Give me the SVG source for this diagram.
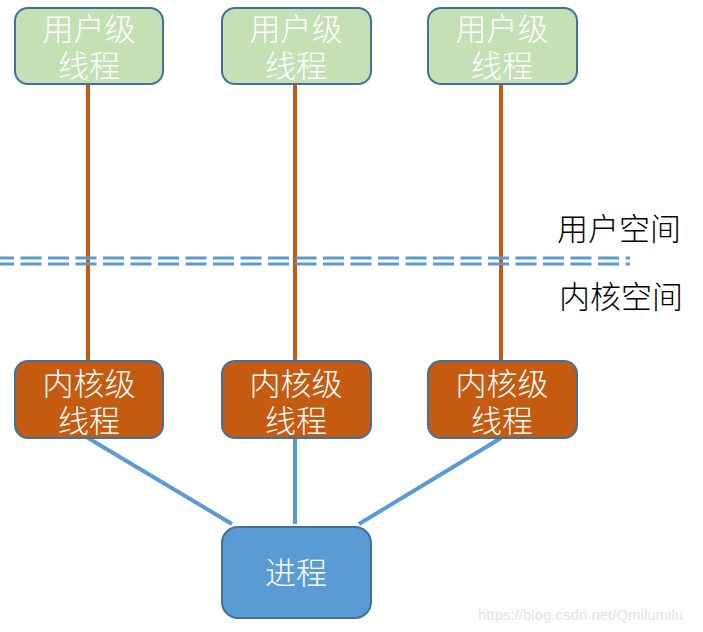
<svg xmlns="http://www.w3.org/2000/svg" width="703" height="632" viewBox="0 0 703 632">
<style>
.box{stroke:#41719c;stroke-width:2}
.user{fill:#c5e0b4}
.kern{fill:#c55a11}
.proc{fill:#5b9bd5}
.t{font-family:"Noto Sans CJK SC","Noto Sans CJK JP",sans-serif;font-size:31px;font-weight:300;fill:#ffffff;text-anchor:middle}
.lbl{font-family:"Noto Sans CJK SC","Noto Sans CJK JP",sans-serif;font-size:31px;font-weight:300;fill:#000000}
.o{stroke:#c55a11;stroke-width:4}
.b{stroke:#5b9bd5;stroke-width:4}
.d{stroke:#5b9bd5;stroke-width:3;stroke-dasharray:21 6.5}
</style>
<rect width="703" height="632" fill="#ffffff"/>
<g id="connectors">
<line class="o" x1="88" y1="84" x2="88" y2="360"/>
<line class="o" x1="295" y1="84" x2="295" y2="360"/>
<line class="o" x1="501" y1="84" x2="501" y2="360"/>
<line class="b" x1="88" y1="438" x2="232" y2="524"/>
<line class="b" x1="295" y1="438" x2="295" y2="524"/>
<line class="b" x1="501" y1="438" x2="359" y2="524"/>
</g>
<g id="divider">
<line class="d" x1="-7" y1="258" x2="630" y2="258"/>
<line class="d" x1="-7" y1="264" x2="630" y2="264"/>
</g>
<g id="user1"><rect class="box user" x="15" y="8" width="148" height="76" rx="13"/><text class="t" x="89" y="40">用户级</text><text class="t" x="89" y="77">线程</text></g>
<g id="user2"><rect class="box user" x="222" y="8" width="149" height="76" rx="13"/><text class="t" x="296" y="40">用户级</text><text class="t" x="296" y="77">线程</text></g>
<g id="user3"><rect class="box user" x="428" y="8" width="149" height="76" rx="13"/><text class="t" x="502" y="40">用户级</text><text class="t" x="502" y="77">线程</text></g>
<g id="kern1"><rect class="box kern" x="15" y="361" width="148" height="77" rx="13"/><text class="t" x="89" y="395">内核级</text><text class="t" x="89" y="432">线程</text></g>
<g id="kern2"><rect class="box kern" x="222" y="361" width="149" height="77" rx="13"/><text class="t" x="296" y="395">内核级</text><text class="t" x="296" y="432">线程</text></g>
<g id="kern3"><rect class="box kern" x="428" y="361" width="149" height="77" rx="13"/><text class="t" x="502" y="395">内核级</text><text class="t" x="502" y="432">线程</text></g>
<g id="process"><rect class="box proc" x="222" y="527" width="149" height="91" rx="16"/><text class="t" x="296" y="584">进程</text></g>
<g id="labels">
<text class="lbl" x="557" y="240">用户空间</text>
<text class="lbl" x="559" y="308">内核空间</text>
</g>
<text x="478" y="620" font-family="Liberation Sans, sans-serif" font-size="15" fill="#e4e4e4">https://blog.csdn.net/Qmilumilu</text>
</svg>
